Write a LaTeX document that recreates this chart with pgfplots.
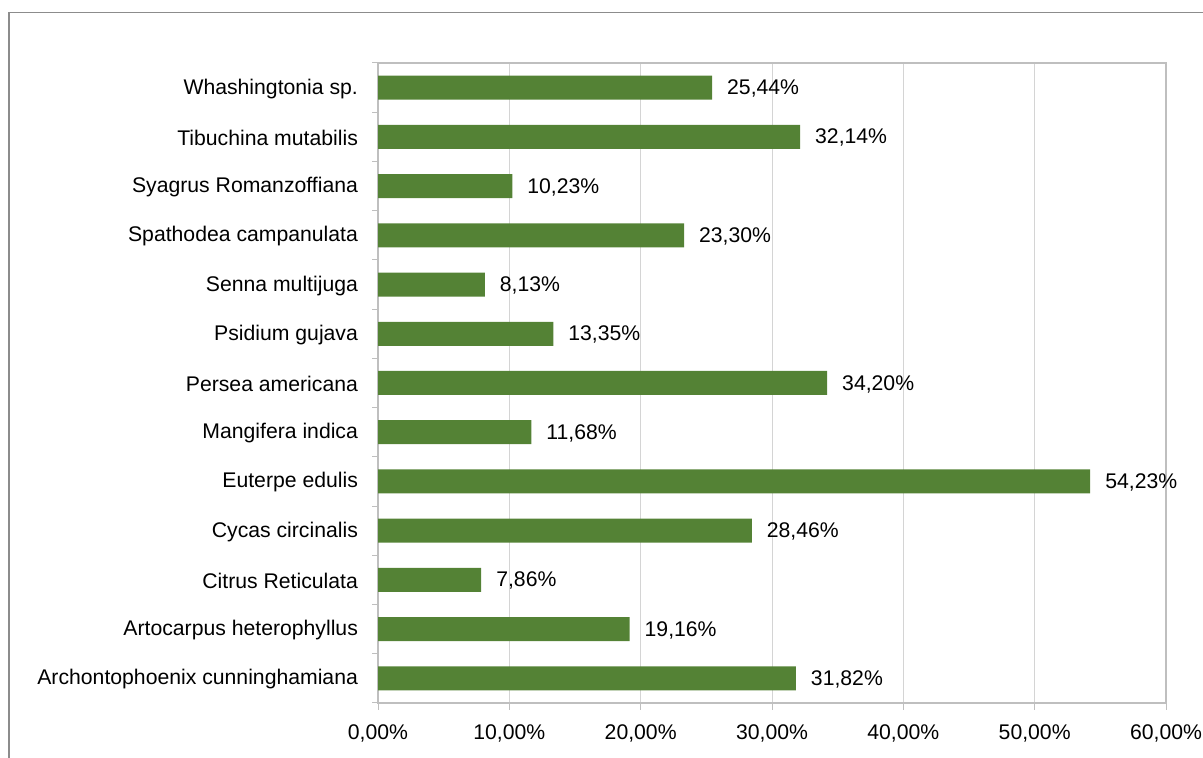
\documentclass[border=0pt]{standalone}
\usepackage{fontspec}
\setmainfont{Liberation Sans}
\usepackage{pgfplots}
\pgfplotsset{compat=1.18}
\definecolor{barg}{HTML}{548235}
\definecolor{gridc}{HTML}{D4D4D4}
\definecolor{axc}{HTML}{BFBFBF}
\definecolor{framec}{HTML}{8C8C8C}
\begin{document}
\begin{tikzpicture}[x=1pt,y=1pt]
\useasboundingbox (0,0) rectangle (601.5,379);
\draw[framec, line width=0.6pt] (4.5,-5) -- (4.5,372.75) -- (610,372.75);
\begin{axis}[
  at={(189pt,27.5pt)}, anchor=south west,
  scale only axis, width=394pt, height=320pt,
  xbar, bar width=12pt,
  xmin=0, xmax=60, ymin=-0.5, ymax=12.5,
  xtick={0,10,...,60},
  xticklabel={\pgfmathprintnumber[fixed,fixed zerofill,precision=2,use comma]{\tick}\%},
  xmajorgrids, grid style={gridc, line width=0.5pt},
  axis line style={axc, line width=0.6pt},
  tick pos=left,
  tick align=outside, major tick length=3.5pt,
  xtick style={axc, line width=0.5pt},
  ytick={0,...,12},
  yticklabels={Archontophoenix cunninghamiana, Artocarpus heterophyllus, Citrus Reticulata, Cycas circinalis, Euterpe edulis, Mangifera indica, Persea americana, Psidium gujava, Senna multijuga, Spathodea campanulata, Syagrus Romanzoffiana, Tibuchina mutabilis, Whashingtonia sp.},
  ytick style={draw=none},
  extra y ticks={-0.5,0.5,...,12.5},
  extra y tick labels={},
  extra y tick style={ytick style={draw=axc, line width=0.5pt}, major tick length=3pt, grid=none},
  /pgf/number format/assume math mode=true,
  tick label style={font=\fontsize{10.6}{12}\selectfont, black},
  yticklabel style={xshift=-3pt, yshift=-0.5pt},
  xticklabel style={yshift=-4pt},
  nodes near coords={\pgfmathprintnumber[fixed,fixed zerofill,precision=2,use comma]{\pgfplotspointmeta}\%},
  every node near coord/.append style={font=\fontsize{10.6}{12}\selectfont, black, anchor=west, xshift=4pt, yshift=-0.5pt},
]
\addplot[fill=barg, draw=none] coordinates {
(31.82,0) (19.16,1) (7.86,2) (28.46,3) (54.23,4) (11.68,5) (34.20,6) (13.35,7) (8.13,8) (23.30,9) (10.23,10) (32.14,11) (25.44,12)
};
\end{axis}
\end{tikzpicture}
\end{document}
